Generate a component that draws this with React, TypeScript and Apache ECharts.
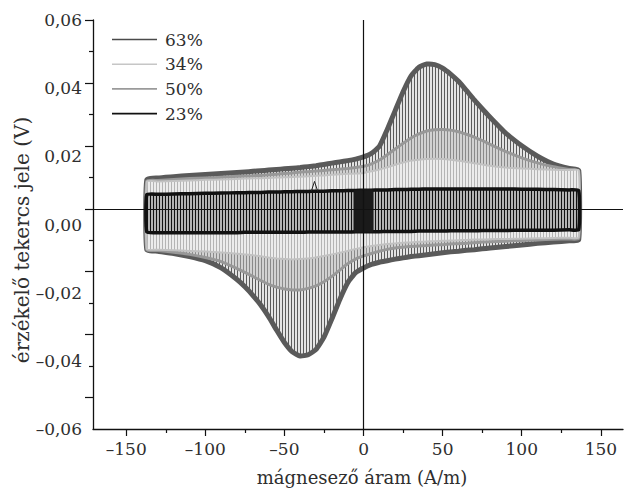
import React, { useEffect, useRef } from "react";
import * as echarts from "echarts";

// magnetising field sample positions (A/m)
const fieldX = [-137, -130, -120, -110, -100, -90, -80, -75, -70, -65, -60, -55, -50, -45, -40, -35, -30, -25, -20, -15, -10, -5, 0, 5, 10, 15, 20, 25, 30, 35, 40, 45, 50, 55, 60, 65, 70, 75, 80, 90, 100, 110, 120, 130, 136];

// 63 % – outer envelope
const upper63 = [0.0092, 0.0098, 0.0102, 0.0106, 0.0109, 0.0112, 0.0115, 0.0117, 0.0119, 0.0121, 0.0123, 0.0125, 0.0127, 0.0129, 0.0131, 0.0134, 0.0137, 0.0141, 0.0145, 0.0149, 0.0153, 0.0158, 0.0165, 0.0176, 0.0198, 0.0252, 0.0312, 0.0372, 0.0422, 0.045, 0.046, 0.0458, 0.0447, 0.0428, 0.0405, 0.0376, 0.0346, 0.0318, 0.0291, 0.024, 0.02, 0.0167, 0.0142, 0.0128, 0.0122];
const lower63 = [-0.013, -0.0135, -0.0142, -0.0152, -0.0165, -0.0188, -0.0225, -0.0248, -0.0275, -0.0306, -0.0343, -0.0385, -0.0425, -0.0455, -0.0468, -0.0464, -0.0447, -0.0408, -0.035, -0.0288, -0.0235, -0.0203, -0.0188, -0.0177, -0.017, -0.0165, -0.016, -0.0156, -0.0152, -0.0149, -0.0146, -0.0143, -0.014, -0.0137, -0.0135, -0.0132, -0.013, -0.0127, -0.0125, -0.012, -0.0115, -0.011, -0.0106, -0.0102, -0.0098];

// 50 %
const upper50 = [0.0088, 0.009, 0.0093, 0.0096, 0.0098, 0.01, 0.0103, 0.0104, 0.0105, 0.0106, 0.0108, 0.011, 0.0112, 0.0114, 0.0117, 0.0118, 0.012, 0.0122, 0.0124, 0.0126, 0.0128, 0.0131, 0.0135, 0.0143, 0.0155, 0.0172, 0.019, 0.0208, 0.0225, 0.0238, 0.0247, 0.0251, 0.0252, 0.025, 0.0245, 0.0237, 0.0228, 0.0217, 0.0205, 0.0182, 0.0162, 0.0146, 0.0134, 0.0125, 0.012];
const lower50 = [-0.013, -0.0133, -0.0138, -0.0145, -0.0155, -0.0168, -0.019, -0.0202, -0.0215, -0.0228, -0.024, -0.0249, -0.0255, -0.0258, -0.0258, -0.0253, -0.0245, -0.0232, -0.0215, -0.0195, -0.0175, -0.016, -0.015, -0.0142, -0.0135, -0.0129, -0.0125, -0.0122, -0.012, -0.0118, -0.0117, -0.0115, -0.0114, -0.0112, -0.0111, -0.011, -0.0108, -0.0106, -0.0105, -0.0103, -0.0101, -0.0099, -0.0097, -0.0096, -0.0095];

// 34 %
const upper34 = [0.0086, 0.0087, 0.0088, 0.009, 0.0092, 0.0093, 0.0095, 0.0096, 0.0097, 0.0097, 0.0098, 0.0099, 0.01, 0.0101, 0.0102, 0.0103, 0.0105, 0.0106, 0.0108, 0.011, 0.0111, 0.0112, 0.0114, 0.0119, 0.0125, 0.0132, 0.014, 0.0147, 0.0153, 0.0156, 0.0158, 0.0159, 0.0158, 0.0156, 0.0153, 0.0149, 0.0145, 0.0141, 0.0137, 0.0131, 0.0128, 0.0126, 0.0124, 0.0123, 0.0122];
const lower34 = [-0.0128, -0.013, -0.0132, -0.0134, -0.0136, -0.0139, -0.0143, -0.0145, -0.0148, -0.0151, -0.0155, -0.0158, -0.016, -0.0161, -0.016, -0.0158, -0.0155, -0.015, -0.0145, -0.014, -0.0134, -0.0128, -0.0122, -0.0118, -0.0115, -0.0112, -0.011, -0.0108, -0.0107, -0.0105, -0.0104, -0.0103, -0.0102, -0.0101, -0.01, -0.0099, -0.0098, -0.0098, -0.0097, -0.0096, -0.0095, -0.0094, -0.0093, -0.0092, -0.0092];

// 23 %
const upper23 = [0.0045, 0.0046, 0.0047, 0.0048, 0.0049, 0.005, 0.0051, 0.0051, 0.0052, 0.0052, 0.0053, 0.0053, 0.0054, 0.0054, 0.0055, 0.0055, 0.0056, 0.0056, 0.0057, 0.0057, 0.0058, 0.0058, 0.0059, 0.0059, 0.006, 0.006, 0.0061, 0.0061, 0.0062, 0.0062, 0.0063, 0.0063, 0.0063, 0.0063, 0.0063, 0.0063, 0.0063, 0.0063, 0.0063, 0.0063, 0.0062, 0.0062, 0.0061, 0.006, 0.0058];
const lower23 = [-0.0074, -0.0076, -0.0076, -0.0076, -0.0076, -0.0076, -0.0076, -0.0075, -0.0075, -0.0075, -0.0075, -0.0075, -0.0075, -0.0075, -0.0075, -0.0074, -0.0074, -0.0074, -0.0074, -0.0074, -0.0074, -0.0073, -0.0073, -0.0073, -0.0073, -0.0072, -0.0072, -0.0072, -0.0072, -0.0071, -0.0071, -0.0071, -0.0071, -0.007, -0.007, -0.007, -0.007, -0.0069, -0.0069, -0.0069, -0.0068, -0.0068, -0.0068, -0.0067, -0.0067];
// dense block of the 23 % trace near zero field
const denseX = [-6, 6];
const denseUpper = [0.0058, 0.006];
const denseLower = [-0.0074, -0.0073];
// small spike on the 23 % trace
const spikeX = [-33, -31, -29];
const spikeY = [0.0056, 0.0087, 0.0056];

const xMajorTicks = [-150, -100, -50, 0, 50, 100, 150];
const xMinorTicks = [-125, -75, -25, 25, 75, 125];
const yMajorTicks = [0.06, 0.04, 0.02, 0, -0.02, -0.04, -0.06];
const yMinorTicks = [0.05, 0.03, 0.01, -0.01, -0.03, -0.05];
const yLabelValues = [-0.06, -0.04, -0.02, 0, 0.02, 0.04, 0.06];

const legendOrder = ["63%", "34%", "50%", "23%"];

const FONT = '"DejaVu Serif", serif';
const TEXT = "#2e2e2e";

function stripes(bg: string, fg: string, period: number, lw: number) {
  const c = document.createElement("canvas");
  c.width = period;
  c.height = 6;
  const ctx = c.getContext("2d")!;
  ctx.fillStyle = bg;
  ctx.fillRect(0, 0, period, 6);
  ctx.fillStyle = fg;
  ctx.fillRect(0, 0, lw, 6);
  return { image: c.toDataURL(), repeat: "repeat", imageWidth: period, imageHeight: 6 };
}

export default function App() {
  const ref = useRef<HTMLDivElement>(null);
  useEffect(() => {
    if (!ref.current) return;
    const chart = echarts.init(ref.current, undefined, { renderer: "svg" });

    const families = [
      { name: "63%", upper: upper63, lower: lower63, color: "#5a5a5a", legend: "#4a4a4a", width: 5, fill: stripes("#e4e4e4", "#5a5a5a", 3, 1) },
      { name: "50%", upper: upper50, lower: lower50, color: "#989898", legend: "#9a9a9a", width: 3, fill: stripes("#d2d2d2", "#8a8a8a", 3, 1) },
      { name: "34%", upper: upper34, lower: lower34, color: "#c2c2c2", legend: "#c6c6c6", width: 2, fill: stripes("#ececec", "#b4b4b4", 3, 1) },
      { name: "23%", upper: upper23, lower: lower23, color: "#111111", legend: "#111111", width: 3.5, fill: stripes("#b2b2b2", "#111111", 3, 1) },
    ];

    const series: any[] = families.map((fam) => ({
      type: "custom",
      name: fam.name,
      silent: true,
      xAxisIndex: 0,
      yAxisIndex: 0,
      itemStyle: { color: fam.legend },
      data: fieldX.map((x, i) => [x, fam.upper[i], fam.lower[i]]),
      encode: { x: 0, y: [1, 2] },
      renderItem: (params: any, api: any) => {
        if (params.dataIndex !== 0) return null;
        const top = fieldX.map((x, i) => api.coord([x, fam.upper[i]]));
        const bot = fieldX.map((x, i) => api.coord([x, fam.lower[i]])).reverse();
        const children: any[] = [
          {
            type: "polygon",
            shape: { points: top.concat(bot), smooth: 0.15 },
            style: { fill: fam.fill, stroke: fam.color, lineWidth: fam.width, lineJoin: "round" },
          },
        ];
        if (fam.name === "23%") {
          const dt = denseX.map((x, i) => api.coord([x, denseUpper[i]]));
          const db = denseX.map((x, i) => api.coord([x, denseLower[i]])).reverse();
          children.push({
            type: "polygon",
            shape: { points: dt.concat(db) },
            style: { fill: "#1a1a1a", stroke: "#1a1a1a", lineWidth: 1 },
          });
          children.push({
            type: "polyline",
            shape: { points: spikeX.map((x, i) => api.coord([x, spikeY[i]])) },
            style: { fill: null, stroke: "#222", lineWidth: 1 },
          });
        }
        return { type: "group", children };
      },
    }));

    series.push({
      type: "line",
      name: "axes0",
      xAxisIndex: 0,
      yAxisIndex: 0,
      data: [],
      z: 10,
      silent: true,
      markLine: {
        silent: true,
        symbol: "none",
        animation: false,
        label: { show: false },
        lineStyle: { color: "#111", width: 1.2, type: "solid" },
        data: [{ xAxis: 0 }, { yAxis: 0 }],
      },
    });

    const xMin = -171;
    const xMax = 164;
    const axisLineStyle = { color: "#111", width: 1.3 };

    chart.setOption({
      animation: false,
      backgroundColor: "#ffffff",
      grid: { left: 93, right: 3, top: 20, bottom: 59, containLabel: false },
      legend: {
        orient: "vertical",
        left: 112,
        top: 31,
        padding: 0,
        icon: "rect",
        itemWidth: 45,
        itemHeight: 1.6,
        itemGap: 7.7,
        textStyle: { fontFamily: FONT, fontSize: 17, color: TEXT, lineHeight: 17, padding: [0, 0, 0, 3] },
        data: legendOrder.map((n) => {
          const f = families.find((q) => q.name === n)!;
          return { name: n, itemStyle: { color: f.legend } };
        }),
      },
      xAxis: [
        {
          type: "value",
          position: "bottom",
          min: xMin,
          max: xMax,
          axisLine: { show: true, onZero: false, lineStyle: axisLineStyle },
          axisTick: { show: true, length: 7, customValues: xMajorTicks, lineStyle: { color: "#111", width: 1.2 } },
          axisLabel: {
            show: true,
            customValues: xMajorTicks,
            margin: 11,
            fontFamily: FONT,
            fontSize: 17,
            color: TEXT,
            formatter: (v: number) => (v < 0 ? "\u2013" + Math.abs(v) : String(v)),
          },
          splitLine: { show: false },
        },
        {
          type: "value",
          position: "bottom",
          min: xMin,
          max: xMax,
          axisLine: { show: false, onZero: false },
          axisTick: { show: true, length: 4, customValues: xMinorTicks, lineStyle: { color: "#111", width: 1.2 } },
          axisLabel: { show: false },
          splitLine: { show: false },
        },
      ],
      yAxis: [
        {
          type: "value",
          position: "left",
          min: -0.07,
          max: 0.06,
          axisLine: { show: true, onZero: false, lineStyle: axisLineStyle },
          axisTick: { show: true, length: 8, customValues: yMajorTicks, lineStyle: { color: "#111", width: 1.2 } },
          axisLabel: { show: false },
          splitLine: { show: false },
        },
        {
          type: "value",
          position: "left",
          min: -0.07,
          max: 0.06,
          axisLine: { show: false, onZero: false },
          axisTick: { show: true, length: 4, customValues: yMinorTicks, lineStyle: { color: "#111", width: 1.2 } },
          axisLabel: { show: false },
          splitLine: { show: false },
        },
        {
          type: "value",
          position: "left",
          min: -0.06,
          max: 0.06,
          axisLine: { show: false, onZero: false },
          axisTick: { show: false },
          axisLabel: {
            show: true,
            customValues: yLabelValues,
            margin: 11,
            fontFamily: FONT,
            fontSize: 17,
            color: TEXT,
            formatter: (v: number) => (v < -1e-9 ? "\u2013" : "") + Math.abs(v).toFixed(2).replace(".", ","),
          },
          splitLine: { show: false },
        },
      ],
      graphic: [
        {
          type: "text",
          x: 362,
          y: 477,
          style: {
            text: "mágnesező áram (A/m)",
            font: '18px "DejaVu Serif", serif',
            fill: TEXT,
            align: "center",
            verticalAlign: "middle",
            textAlign: "center",
            textVerticalAlign: "middle",
          },
        },
        {
          type: "text",
          x: 22,
          y: 240,
          rotation: Math.PI / 2,
          style: {
            text: "érzékelő tekercs jele (V)",
            font: '20px "DejaVu Serif", serif',
            fill: TEXT,
            align: "center",
            verticalAlign: "middle",
            textAlign: "center",
            textVerticalAlign: "middle",
          },
        },
      ],
      series,
    });

    return () => chart.dispose();
  }, []);

  return (
    <div
      ref={ref}
      style={{ position: "absolute", left: 0, top: 0, width: 626, height: 488, background: "#fff" }}
    />
  );
}
